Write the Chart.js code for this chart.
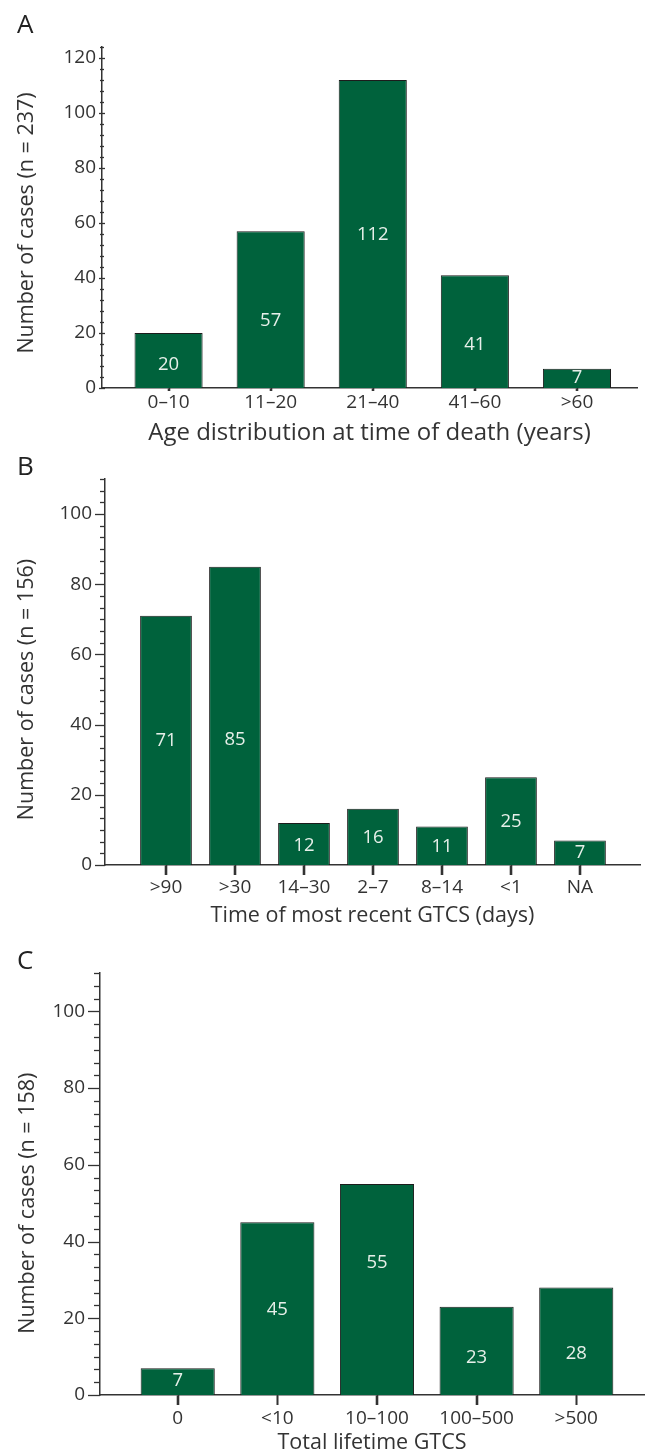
<!DOCTYPE html>
<html><head><meta charset="utf-8">
<script src="https://cdn.jsdelivr.net/npm/chart.js@4/dist/chart.umd.min.js"></script>
<style>
html,body{margin:0;padding:0;background:#fff;}
body{width:649px;height:1456px;position:relative;overflow:hidden;font-family:'Open Sans',sans-serif;}
.panel{position:absolute;left:0;width:649px;}
.letter{position:absolute;left:17px;font-size:26px;line-height:26px;color:#222;font-family:'Open Sans',sans-serif;}
</style></head><body>
<div class="panel" style="top:0;height:450px"><canvas id="cA"></canvas></div>
<div class="panel" style="top:450px;height:490px"><canvas id="cB"></canvas></div>
<div class="panel" style="top:940px;height:516px"><canvas id="cC"></canvas></div>
<div class="letter" style="top:10px">A</div>
<div class="letter" style="top:452px">B</div>
<div class="letter" style="top:946px">C</div>
<script>
// ---- Data ----
const ageCategories = ['0–10', '11–20', '21–40', '41–60', '>60'];
const ageCases = [20, 57, 112, 41, 7];
const ageLabelAt = [8.4, 24.5, 55.6, 15.7, 3.7];
const ageYTicks = [0, 20, 40, 60, 80, 100, 120];

const recentCategories = ['>90', '>30', '14–30', '2–7', '8–14', '<1', 'NA'];
const recentCases = [71, 85, 12, 16, 11, 25, 7];
const recentLabelAt = [35.5, 35.6, 5.5, 7.7, 5.2, 12.3, 3.4];
const recentYTicks = [0, 20, 40, 60, 80, 100];

const lifetimeCategories = ['0', '<10', '10–100', '100–500', '>500'];
const lifetimeCases = [7, 45, 55, 23, 28];
const lifetimeLabelAt = [3.7, 22.2, 34.5, 9.7, 10.7];
const lifetimeYTicks = [0, 20, 40, 60, 80, 100];

// ---- Styles ----
const FONT = "'Open Sans', sans-serif";
const INK = '#333333';
const BAR = '#00623c';
Chart.defaults.font.family = FONT;
Chart.defaults.color = INK;

function decorPlugin(g, cases, labelAt, majors) {
  return {
    id: 'decor',
    afterDatasetsDraw(chart) {
      const {ctx, chartArea, scales: {x, y}} = chart;
      ctx.save();
      ctx.strokeStyle = INK;
      // y-axis major / minor tick marks
      ctx.lineWidth = 1.3;
      const n = Math.round(g.yMax / g.minorStep);
      const ax = chartArea.left;
      for (let i = 0; i <= n; i++) {
        const v = i * g.minorStep;
        const isMajor = majors.some(m => Math.abs(m - v) < 1e-6);
        const py = Math.round(y.getPixelForValue(v)) + 0.5;
        const out = isMajor ? g.majorOut : g.minorOut;
        const inn = isMajor ? g.majorIn : g.minorIn;
        ctx.beginPath();
        ctx.moveTo(ax - out, py);
        ctx.lineTo(ax + inn, py);
        ctx.stroke();
      }
      // x-axis tick marks under each category
      ctx.lineWidth = 1.6;
      cases.forEach((_, i) => {
        const px = Math.round(x.getPixelForValue(i)) + 0.5;
        ctx.beginPath();
        ctx.moveTo(px, chartArea.bottom);
        ctx.lineTo(px, chartArea.bottom + g.xTick);
        ctx.stroke();
      });
      // y-axis title, centred on the labelled tick range
      const yTop = y.getPixelForValue(majors[majors.length - 1]);
      const yBot = y.getPixelForValue(majors[0]);
      ctx.save();
      ctx.translate(g.yTitleX, (yTop + yBot) / 2);
      ctx.rotate(-Math.PI / 2);
      ctx.fillStyle = INK;
      ctx.font = '21.5px ' + FONT;
      ctx.textAlign = 'center';
      ctx.textBaseline = 'middle';
      ctx.fillText(g.yTitle, 0, 0);
      ctx.restore();
      // value labels inside bars
      ctx.fillStyle = '#e6efe9';
      ctx.font = '18.5px ' + FONT;
      ctx.textAlign = 'center';
      ctx.textBaseline = 'middle';
      cases.forEach((c, i) => {
        ctx.fillText(String(c), x.getPixelForValue(i), y.getPixelForValue(labelAt[i]));
      });
      ctx.restore();
    }
  };
}

function makeChart(id, cats, cases, labelAt, yTicks, g) {
  const data = cases.map((v, i) => ({x: i, y: v}));
  return new Chart(document.getElementById(id), {
    type: 'bar',
    data: {
      datasets: [{
        label: g.yTitle,
        data,
        backgroundColor: BAR,
        borderColor: '#1c1c1c',
        borderWidth: 1,
        categoryPercentage: 1,
        barPercentage: g.barRatio
      }]
    },
    options: {
      responsive: true,
      maintainAspectRatio: false,
      animation: false,
      layout: {padding: {top: g.top, right: g.right, bottom: 0, left: 0}},
      plugins: {legend: {display: false}, tooltip: {enabled: false}, title: {display: false}},
      scales: {
        x: {
          type: 'linear',
          offset: false,
          min: g.xMin, max: g.xMax,
          afterFit: s => { s.height = g.xAxisH; },
          afterBuildTicks: s => { s.ticks = cats.map((_, i) => ({value: i})); },
          grid: {display: true, offset: false, drawOnChartArea: false, drawTicks: true, tickLength: g.xTick, tickColor: INK, tickWidth: 1.6},
          border: {display: true, color: INK, width: 1.5},
          ticks: {callback: v => cats[v], padding: g.xPad, color: INK, font: {family: FONT, size: 19}, autoSkip: false, maxRotation: 0},
          title: {display: true, text: g.xTitle, color: INK, font: {family: FONT, size: g.xTitleSize}, padding: {top: 0, bottom: g.xTitlePad}}
        },
        y: {
          type: 'linear',
          min: 0, max: g.yMax,
          afterFit: s => { s.width = g.axisX; },
          afterBuildTicks: s => { s.ticks = yTicks.map(v => ({value: v})); },
          grid: {display: false, drawTicks: false},
          border: {display: true, color: INK, width: 1.5},
          ticks: {padding: g.yPad, color: INK, font: {family: FONT, size: 19}, autoSkip: false},
          title: {display: false, text: g.yTitle}
        }
      }
    },
    plugins: [decorPlugin(g, cases, labelAt, yTicks)]
  });
}

makeChart('cA', ageCategories, ageCases, ageLabelAt, ageYTicks, {
  top: 47, right: 12, axisX: 102, xAxisH: 62,
  xMin: -0.652, xMax: 4.588, barRatio: 0.667,
  yMax: 124, minorStep: 4, majorOut: 3, majorIn: 3, minorOut: 2, minorIn: 2,
  xTick: 3, xPad: 0, xTitlePad: 2, xTitleSize: 24, yPad: 6, yTitleX: 27,
  xTitle: 'Age distribution at time of death (years)',
  yTitle: 'Number of cases (n = 237)'
});

makeChart('cB', recentCategories, recentCases, recentLabelAt, recentYTicks, {
  top: 29, right: 9, axisX: 105, xAxisH: 75,
  xMin: -0.884, xMax: 6.87, barRatio: 0.75,
  yMax: 110, minorStep: 10 / 3, majorOut: 10, majorIn: 0, minorOut: 5, minorIn: 0,
  xTick: 10, xPad: 1, xTitlePad: 11.5, xTitleSize: 21.5, yPad: 13, yTitleX: 27,
  xTitle: 'Time of most recent GTCS (days)',
  yTitle: 'Number of cases (n = 156)'
});

makeChart('cC', lifetimeCategories, lifetimeCases, lifetimeLabelAt, lifetimeYTicks, {
  top: 33, right: 5, axisX: 100, xAxisH: 61,
  xMin: -0.78, xMax: 4.68, barRatio: 0.744,
  yMax: 110, minorStep: 10 / 3, majorOut: 12, majorIn: 0, minorOut: 6, minorIn: 0,
  xTick: 10, xPad: 2, xTitlePad: 0, xTitleSize: 21.5, yPad: 15, yTitleX: 28,
  xTitle: 'Total lifetime GTCS',
  yTitle: 'Number of cases (n = 158)'
});
</script>
</body></html>
